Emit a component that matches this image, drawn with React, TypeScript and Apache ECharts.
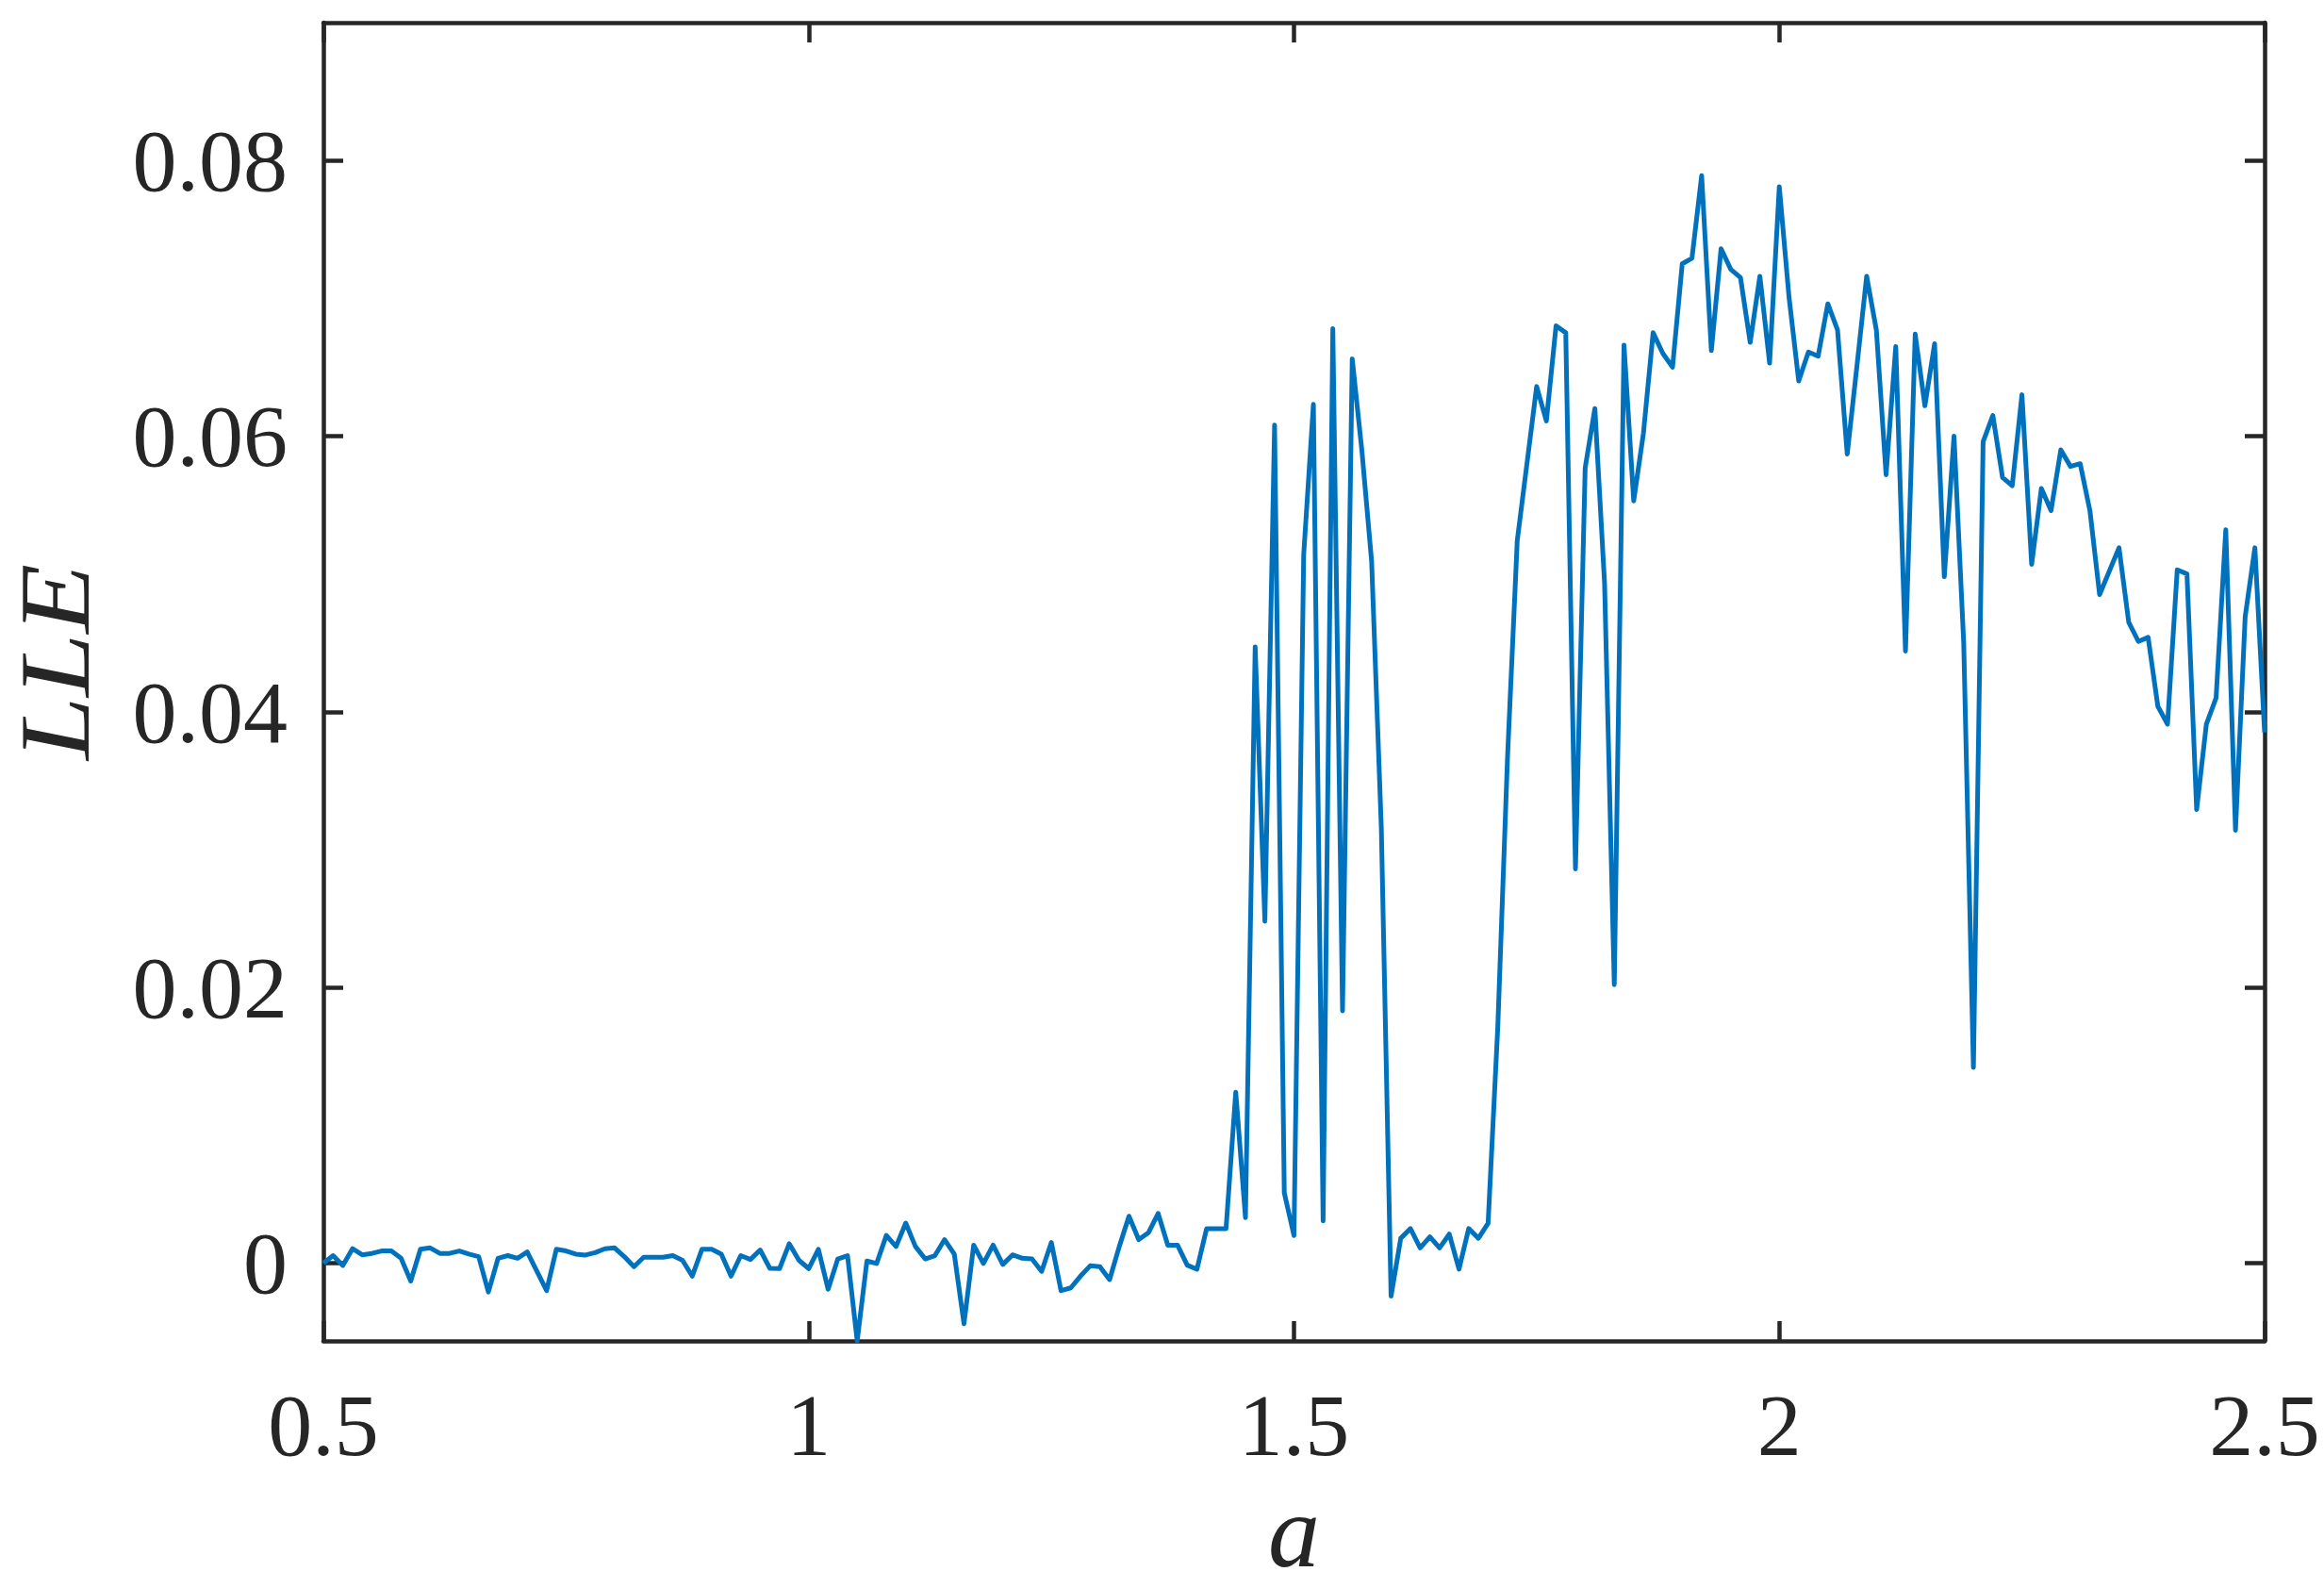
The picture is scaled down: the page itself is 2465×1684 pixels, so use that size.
import React, { useEffect, useRef } from "react";
import * as echarts from "echarts";

// Control parameter a: 0.50 .. 2.50 in steps of 0.01
const A_START = 0.5;
const A_STEP = 0.01;

// Largest Lyapunov exponent, one value per a (201 values)
const lle: number[] = [
  // 0.50 - 0.59
  0.0, 0.00054, -0.00017, 0.00104, 0.0006, 0.0007, 0.00088, 0.00088, 0.00035, -0.0013,
  // 0.60 - 0.69
  0.001, 0.0011, 0.0007, 0.0007, 0.00088, 0.00065, 0.00047, -0.0021, 0.00035, 0.00054,
  // 0.70 - 0.79
  0.00035, 0.0008, -0.0006, -0.002, 0.001, 0.00088, 0.00065, 0.00058, 0.00076, 0.00104,
  // 0.80 - 0.89
  0.0011, 0.00047, -0.00026, 0.00042, 0.00042, 0.00042, 0.00054, 0.0002, -0.00095, 0.001,
  // 0.90 - 0.99
  0.001, 0.00065, -0.00095, 0.00054, 0.00026, 0.00095, -0.00038, -0.0004, 0.0014, 0.0002,
  // 1.00 - 1.09
  -0.0004, 0.001, -0.0019, 0.0003, 0.00054, -0.00565, 0.00015, -0.00003, 0.002, 0.0012,
  // 1.10 - 1.19
  0.0029, 0.0012, 0.0003, 0.00054, 0.0017, 0.00065, -0.0044, 0.0013, -0.00003, 0.0013,
  // 1.20 - 1.29
  -0.0001, 0.0006, 0.00035, 0.0003, -0.0006, 0.0015, -0.002, -0.0018, -0.00095, -0.0002,
  // 1.30 - 1.39
  -0.00026, -0.0012, 0.0012, 0.0034, 0.0017, 0.0022, 0.0036, 0.0013, 0.0013, -0.00015,
  // 1.40 - 1.49
  -0.00045, 0.0025, 0.0025, 0.0025, 0.0124, 0.0033, 0.0447, 0.0248, 0.0608, 0.0051,
  // 1.50 - 1.59
  0.002, 0.0514, 0.0623, 0.00305, 0.0678, 0.0183, 0.0656, 0.0589, 0.0509, 0.0315,
  // 1.60 - 1.69
  -0.0024, 0.0018, 0.0025, 0.0011, 0.0019, 0.0011, 0.0021, -0.00044, 0.0025, 0.0018,
  // 1.70 - 1.79
  0.0029, 0.0172, 0.0367, 0.0524, 0.058, 0.0636, 0.0611, 0.068, 0.0675, 0.0286,
  // 1.80 - 1.89
  0.0577, 0.062, 0.0493, 0.0202, 0.0666, 0.0553, 0.0602, 0.0675, 0.066, 0.065,
  // 1.90 - 1.99
  0.0725, 0.0729, 0.0789, 0.0662, 0.0736, 0.0721, 0.0715, 0.0668, 0.0716, 0.0653,
  // 2.00 - 2.09
  0.0781, 0.0701, 0.064, 0.0661, 0.0658, 0.0696, 0.0677, 0.0587, 0.0651, 0.0716,
  // 2.10 - 2.19
  0.0677, 0.0572, 0.0665, 0.0444, 0.0674, 0.0622, 0.0667, 0.0498, 0.06, 0.045,
  // 2.20 - 2.29
  0.0142, 0.0596, 0.0615, 0.057, 0.0564, 0.063, 0.0507, 0.0562, 0.0546, 0.059,
  // 2.30 - 2.39
  0.0578, 0.058, 0.0546, 0.0485, 0.0502, 0.0519, 0.0465, 0.0451, 0.0454, 0.0404,
  // 2.40 - 2.50
  0.0391, 0.0503, 0.05, 0.0329, 0.0391, 0.041, 0.0532, 0.0314, 0.0469, 0.0519, 0.0385,
];

const xMin = 0.5;
const xMax = 2.5;
const xInterval = 0.5;
const yMin = -0.00565;
const yMax = 0.09;
const yTicks = [0, 0.02, 0.04, 0.06, 0.08];

const xName = "a";
const yName = "LLE";

const FONT = '"Liberation Serif", "Times New Roman", Times, serif';
const AXIS_COLOR = "#262626";
const LINE_COLOR = "#0072BD";

export default function App() {
  const ref = useRef<HTMLDivElement>(null);

  useEffect(() => {
    if (!ref.current) return;
    const chart = echarts.init(ref.current, null, { renderer: "svg" });

    const data = lle.map((v, i) => [Number((A_START + i * A_STEP).toFixed(2)), v]);

    const lineCommon = { show: true, onZero: false, lineStyle: { color: AXIS_COLOR, width: 4.5 } };
    const tickCommon = { show: true, inside: true, length: 21, lineStyle: { color: AXIS_COLOR, width: 4.5 } };

    chart.setOption({
      animation: false,
      backgroundColor: "#ffffff",
      grid: { left: 343, right: 63, top: 24, bottom: 262, containLabel: false, outerBoundsMode: "none" },
      graphic: [
        {
          type: "text",
          x: 59,
          y: 702,
          rotation: Math.PI / 2,
          scaleX: 1.14,
          style: {
            text: yName,
            font: `italic 106px ${FONT}`,
            fill: AXIS_COLOR,
            textAlign: "center",
            textVerticalAlign: "middle",
            lineHeight: 80,
          },
        },
      ],
      xAxis: [
        {
          type: "value",
          position: "bottom",
          min: xMin,
          max: xMax,
          interval: xInterval,
          axisLine: lineCommon,
          axisTick: tickCommon,
          splitLine: { show: false },
          axisLabel: {
            margin: 42,
            fontSize: 94,
            fontFamily: FONT,
            color: AXIS_COLOR,
            showMinLabel: true,
            showMaxLabel: true,
            hideOverlap: false,
            formatter: (v: number) => String(v),
          },
          name: xName,
          nameLocation: "middle",
          nameGap: 147,
          nameTextStyle: { fontSize: 110, fontStyle: "italic", fontFamily: FONT, color: AXIS_COLOR },
        },
        {
          type: "value",
          position: "top",
          min: xMin,
          max: xMax,
          interval: xInterval,
          axisLine: lineCommon,
          axisTick: tickCommon,
          axisLabel: { show: false },
          splitLine: { show: false },
        },
      ],
      yAxis: [
        {
          type: "value",
          position: "left",
          min: yMin,
          max: yMax,
          axisLine: lineCommon,
          axisTick: { ...tickCommon, customValues: yTicks },
          splitLine: { show: false },
          axisLabel: {
            customValues: yTicks,
            margin: 38,
            fontSize: 94,
            fontFamily: FONT,
            color: AXIS_COLOR,
            formatter: (v: number) => String(v),
          },
        },
        {
          type: "value",
          position: "right",
          min: yMin,
          max: yMax,
          axisLine: lineCommon,
          axisTick: { ...tickCommon, customValues: yTicks },
          axisLabel: { show: false },
          splitLine: { show: false },
        },
      ],
      series: [
        {
          type: "line",
          data,
          xAxisIndex: 0,
          yAxisIndex: 0,
          symbol: "none",
          showSymbol: false,
          lineStyle: { color: LINE_COLOR, width: 5, join: "round" },
          z: 1,
        },
      ],
    });

    return () => chart.dispose();
  }, []);

  return (
    <div
      ref={ref}
      style={{ position: "absolute", left: 0, top: 0, width: 2465, height: 1684, background: "#fff" }}
    />
  );
}
